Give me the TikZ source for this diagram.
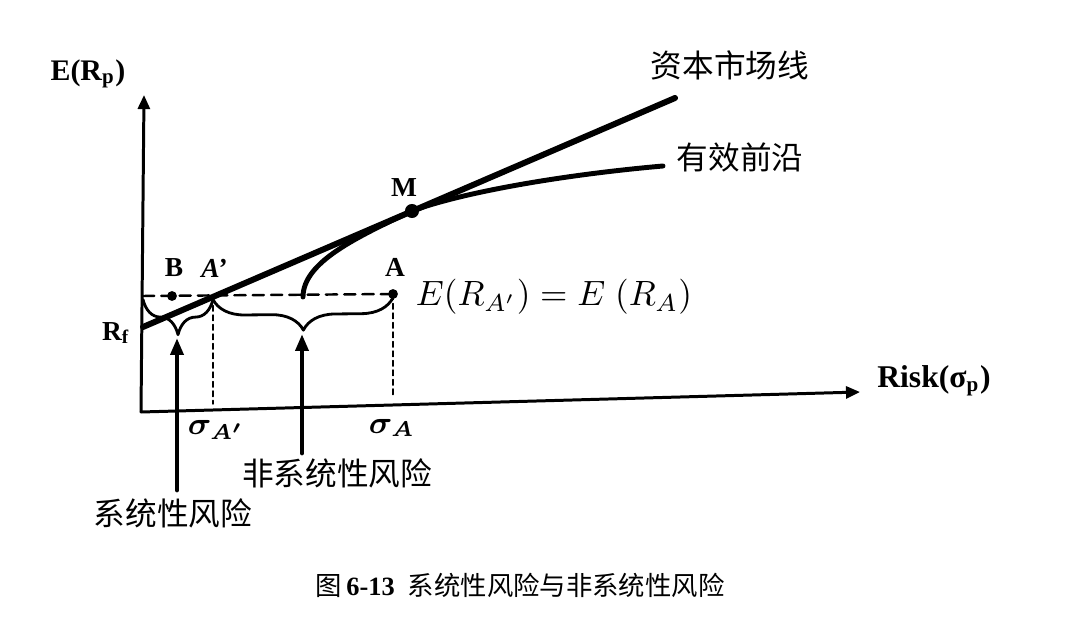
\documentclass[tikz,border=0pt]{standalone}
\usepackage{fontspec}
\setmainfont{Liberation Serif}
\newfontfamily\cjk{Noto Sans CJK SC}
\usetikzlibrary{arrows.meta,decorations.pathreplacing}
\begin{document}
\begin{tikzpicture}[x=0.01cm, y=-0.01cm, line join=round, line cap=round, >={Triangle[length=4pt,width=3.4pt]},
	lbl/.style={font=\bfseries\fontsize{7.8}{9}\selectfont, inner sep=0pt},
	axlbl/.style={font=\bfseries\fontsize{8.5}{10}\selectfont, inner sep=0pt},
	zh/.style={font=\cjk\fontsize{9}{10}\selectfont, inner sep=0pt},
	brc/.style={decorate, decoration={brace, mirror, amplitude=#1, raise=1pt}, line width=0.8pt},
	]
				\useasboundingbox (0,0) rectangle (1080,625);
				\path
				(141,412) coordinate (O)
				(144,95) coordinate (Y)
				(860,392) coordinate (X)
				(143,327) coordinate (Rf)
				(675,98) coordinate (C)
				(412,211) coordinate (M)
				(303,297) coordinate (F)
				(663,166) coordinate (E)
				(143,296) coordinate (D)
				(172,296) coordinate (B)
				(213,296) coordinate (Ap)
				(393,294) coordinate (A)
				(213,404) coordinate (Ap0)
				(393,398) coordinate (A0)
				(177,338) coordinate (T1)
				(302,334) coordinate (T2)
				(177,490) coordinate (S1)
				(302,453) coordinate (S2)
				;
				\draw[line width=0.85pt, ->] (O) -- (Y);
				\draw[line width=0.85pt, ->] (O) -- (X);
				\node[axlbl] (ERp) at (88,74) {E(R\textsubscript{p})};
				\node[axlbl, font=\bfseries\fontsize{9}{10}\selectfont] (risk) at (934,381) {Risk(σ\textsubscript{p})};
				\node[lbl] (Rflbl) at (116,333) {R\textsubscript{f}};
				\node[lbl] (Blbl) at (174,268) {B};
				\node[lbl] (Aplbl) at (214,268) {\itshape A’};
				\node[lbl] (Albl) at (395,267) {A};
				\node[lbl] (Mlbl) at (404,188) {M};
				\node[inner sep=0pt, font=\fontsize{9.2}{11}\selectfont\boldmath] (sAp) at (216,430) {$\sigma_{A'}$};
				\node[inner sep=0pt, font=\fontsize{9.2}{11}\selectfont\boldmath] (sA) at (392,428) {$\sigma_{A}$};
				\node[inner sep=0pt, font=\fontsize{10}{12}\selectfont] (eq) at (554,297) {$E(R_{A'}) = E\;(R_A)$};
				
				\draw[line width=1.7pt] (Rf) -- (C);
				\draw[line width=1.4pt] (F) .. controls (303,262) and (357,237) .. (M) .. controls (460,193) and (560,175) .. (E);
				\node[zh] (cml) at (730,65) {资本市场线};
				\node[zh] (ef) at (740,157) {有效前沿};
				
				\draw[line width=0.7pt, dash pattern=on 3.2pt off 2pt] (D) -- (A);
				\draw[line width=0.4pt, dash pattern=on 1.6pt off 1.1pt] (Ap) -- (Ap0);
				\draw[line width=0.4pt, dash pattern=on 1.6pt off 1.1pt] (A) -- (A0);
				
				\fill (B) circle (1.4pt); 
				\fill (A) circle (1.4pt); 
				\fill (M) circle (2pt); 
				
				\draw[brc=10pt] (D) -- (Ap);
				\draw[brc=9pt] (Ap) -- (A);
				
				\draw[line width=1.4pt, -{Triangle[length=4.8pt,width=3.6pt]}] (S1) -- (T1);
				\draw[line width=1.4pt, -{Triangle[length=4.8pt,width=3.6pt]}] (S2) -- (T2);
				\node[zh] (sys) at (173,513) {系统性风险};
				\node[zh] (nsys) at (337,473) {非系统性风险};
				
				\node[inner sep=0pt, font=\fontsize{7.5}{9}\selectfont] (cap) at (520,585) {{\cjk 图}\,\textbf{6-13}\enspace{\cjk 系统性风险与非系统性风险}};
		\end{tikzpicture}
\end{document}
